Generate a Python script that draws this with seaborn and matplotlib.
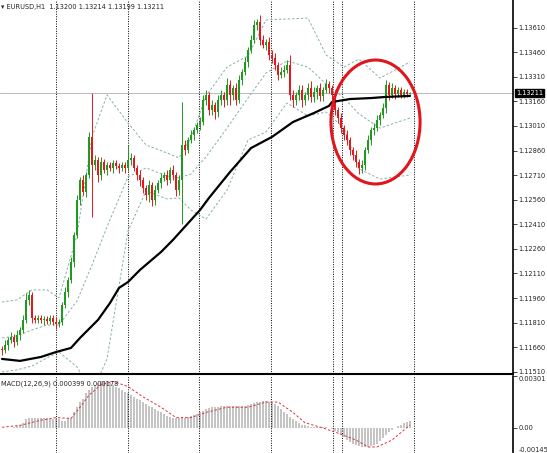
import numpy as np
import seaborn as sns
import matplotlib.pyplot as plt
import matplotlib.transforms as mtransforms
from matplotlib.patches import Ellipse

# EURUSD H1 closes, oldest bar first
closes = [
    1.11644, 1.11674, 1.11705, 1.11723, 1.11692, 1.11735, 1.11766, 1.11827, 1.11949, 1.11979,
    1.11839, 1.11827, 1.11839, 1.11827, 1.11833, 1.11821, 1.11839, 1.11814, 1.11802, 1.11814,
    1.11918, 1.11997, 1.12071, 1.12181, 1.12345, 1.12559, 1.12681, 1.12607, 1.12711, 1.12943,
    1.12772, 1.12803, 1.12711, 1.12790, 1.12741, 1.12772, 1.12754, 1.12784, 1.12766, 1.12754,
    1.12772, 1.12754, 1.12803, 1.12815, 1.12754, 1.12711, 1.12681, 1.12632, 1.12589, 1.12650,
    1.12559, 1.12620, 1.12662, 1.12693, 1.12711, 1.12681, 1.12741, 1.12711, 1.12620, 1.12681,
    1.12894, 1.12863, 1.12924, 1.12955, 1.12985, 1.13016, 1.13034, 1.13168, 1.13199, 1.13107,
    1.13138, 1.13095, 1.13168, 1.13199, 1.13168, 1.13260, 1.13199, 1.13241, 1.13168, 1.13290,
    1.13339, 1.13400, 1.13473, 1.13534, 1.13626, 1.13644, 1.13534, 1.13504, 1.13522, 1.13443,
    1.13424, 1.13382, 1.13321, 1.13339, 1.13351, 1.13382, 1.13199, 1.13168, 1.13199, 1.13229,
    1.13168, 1.13199, 1.13241, 1.13186, 1.13217, 1.13241, 1.13193, 1.13229, 1.13266, 1.13241,
    1.13199, 1.13107, 1.13058, 1.12997, 1.12955, 1.12924, 1.12863, 1.12833, 1.12790, 1.12754,
    1.12772, 1.12863, 1.12924, 1.12985, 1.12997, 1.13046, 1.13077, 1.13119, 1.13260, 1.13199,
    1.13241, 1.13205, 1.13229, 1.13199, 1.13217, 1.13205, 1.13211,
]
first_open = 1.11650

# wick length above / below each candle body, in pips
wick_up = [
    2, 3, 2, 3, 2, 3, 2, 3, 4, 3,
    2, 2, 2, 2, 2, 2, 2, 2, 3, 2,
    2, 3, 2, 3, 2, 3, 2, 3, 2, 3,
    27, 3, 2, 3, 2, 2, 2, 2, 2, 2,
    2, 2, 9, 3, 2, 2, 3, 2, 2, 3,
    2, 3, 2, 3, 2, 3, 2, 3, 2, 3,
    26, 3, 2, 3, 2, 2, 3, 3, 3, 2,
    3, 2, 3, 3, 2, 4, 3, 2, 3, 3,
    2, 3, 2, 3, 3, 2, 4, 3, 2, 3,
    3, 3, 2, 3, 3, 3, 6, 3, 2, 3,
    3, 2, 3, 4, 3, 2, 3, 2, 3, 2,
    2, 3, 2, 3, 2, 3, 2, 2, 3, 2,
    3, 2, 3, 2, 3, 3, 2, 3, 3, 2,
    3, 2, 2, 2, 2, 2, 0.3,
]
wick_dn = [
    3, 2, 3, 2, 3, 2, 3, 2, 2, 3,
    3, 2, 2, 2, 3, 2, 2, 2, 3, 2,
    2, 2, 3, 2, 3, 2, 3, 2, 3, 2,
    32, 3, 4, 3, 2, 3, 2, 3, 2, 3,
    2, 3, 2, 3, 2, 3, 4, 3, 3, 4,
    4, 3, 2, 3, 2, 3, 2, 3, 4, 3,
    27, 3, 2, 2, 3, 2, 3, 2, 3, 3,
    3, 4, 3, 3, 4, 3, 6, 3, 3, 2,
    3, 2, 3, 2, 2, 3, 3, 2, 3, 3,
    3, 3, 3, 2, 3, 2, 3, 4, 3, 3,
    4, 3, 3, 3, 3, 4, 3, 3, 2, 3,
    3, 3, 3, 3, 3, 3, 3, 3, 3, 4,
    3, 3, 2, 3, 3, 2, 3, 2, 3, 3,
    2, 3, 2, 2, 2, 2, 0.1,
]

# long moving average (black line), sampled along the curve
ma_bar = [0, 6, 13, 18, 23, 26, 32, 36, 39, 42, 46, 53, 57, 66, 69, 76, 83, 90, 97, 104, 109, 110, 116, 123, 128, 136]
ma_val = [1.11589, 1.11577, 1.11601, 1.11631, 1.11656, 1.11717, 1.11827, 1.11930, 1.12022, 1.12058,
          1.12132, 1.12241, 1.12315, 1.12497, 1.12571, 1.12729, 1.12875, 1.12943, 1.13034, 1.13089,
          1.13132, 1.13156, 1.13174, 1.13180, 1.13187, 1.13193]

# bollinger bands (dashed), sampled
bb_bar = [0, 5, 10, 15, 19, 25, 30, 35, 42, 48, 55, 59, 63, 68, 75, 82, 88, 95, 102, 108, 114, 119, 126, 136]
bb_upper = [1.11936, 1.11949, 1.12010, 1.12010, 1.11961, 1.12345, 1.12943, 1.13199, 1.13028, 1.12894,
            1.12845, 1.12815, 1.12937, 1.13193, 1.13369, 1.13437, 1.13656, 1.13662, 1.13668, 1.13443,
            1.13369, 1.13418, 1.13302, 1.13400]
bb_mid = [1.11717, 1.11729, 1.11766, 1.11796, 1.11796, 1.11943, 1.12162, 1.12394, 1.12699, 1.12754,
          1.12705, 1.12693, 1.12717, 1.12821, 1.12997, 1.13180, 1.13333, 1.13406, 1.13369, 1.13266,
          1.13180, 1.13083, 1.12997, 1.13058]
bb_lower = [1.11510, 1.11522, 1.11546, 1.11595, 1.11631, 1.11540, 1.11382, 1.11589, 1.12369, 1.12613,
            1.12565, 1.12571, 1.12497, 1.12442, 1.12619, 1.12924, 1.12973, 1.13150, 1.13071, 1.13095,
            1.12997, 1.12748, 1.12686, 1.12711]

# MACD(12,26,9) main histogram, in pips (x 1e-4)
macd_main_pips = [
    0.1, 0.1, 0.2, 0.2, 0.3, 1, 2, 3, 5, 6,
    6, 6, 6, 6, 6, 6, 5, 5, 5, 5,
    4, 4, 5, 6, 9, 12, 15, 17, 20, 22,
    24, 25, 26, 27, 27, 27, 26, 25, 24, 23,
    22, 21, 20, 19, 18, 17, 16, 15, 14, 13,
    12, 11, 10, 9, 8, 7, 6.5, 6, 6, 5.5,
    6, 6, 6.5, 7, 7.5, 8, 9, 10, 11, 11.5,
    12, 12, 12, 12.5, 12.5, 12.5, 12.5, 12.5, 12.5, 12.5,
    13, 13, 13.5, 14, 14.5, 15, 15, 15.5, 15.5, 15,
    15, 14, 12.5, 11, 9.5, 8, 6.5, 5, 4, 3,
    2, 1.5, 1, 0.8, 0.6, 0.5, 0.4, 0.3, 0.3, 0.2,
    -0.5, -1.5, -2.5, -4, -5.5, -7, -8, -9, -10, -10.5,
    -11, -11, -11, -10.5, -10, -9, -7.5, -6, -4, -2.5,
    -1, 0, 1, 2, 3, 3.5, 3.99,
]
# signal line (red dashed), sampled
sig_bar = [0, 6, 13, 18, 23, 26, 29, 33, 37, 42, 47, 53, 58, 63, 68, 75, 82, 88, 92, 97, 101, 107, 112, 118, 122, 125, 130, 136]
sig_pips = [0.4, 1.5, 4.5, 6, 5.5, 12, 19, 25, 27, 24, 18, 12, 6, 6, 9, 12, 12, 15, 15, 9, 3, 0, -3, -7, -11, -11, -7, 1.78]

price_ticks = [1.11510, 1.11660, 1.11810, 1.11960, 1.12110, 1.12260, 1.12410, 1.12560,
               1.12710, 1.12860, 1.13010, 1.13160, 1.13310, 1.13460, 1.13610]
macd_ticks = [0.00301, 0.0, -0.00145]
macd_tick_labels = ['0.00301', '0.00', '-0.00145']
day_breaks = [18, 42, 65.7, 89.7, 110.3, 113.3, 137.3]
last_price = 1.13211

GREEN = '#1e9a1e'
RED = '#e8161b'
FS = 4.8

sns.set_style('white')
plt.rcParams['font.family'] = ['DejaVu Sans']

fig = plt.figure(figsize=(5.47, 4.53), dpi=100)
ax = fig.add_axes([0, 1 - 374 / 453, 513 / 547, 374 / 453])
ax2 = fig.add_axes([0, 0, 513 / 547, 77 / 453])

xs = np.arange(len(closes))
c = np.array(closes)
o = np.concatenate([[first_open], c[:-1]])
hi = np.maximum(o, c) + np.array(wick_up) * 1e-4
lo = np.minimum(o, c) - np.array(wick_dn) * 1e-4
col = np.where(c >= o, GREEN, RED)

# candles
ax.vlines(xs, lo, hi, colors=col, linewidth=0.7, zorder=3)
body = np.maximum(np.abs(c - o), 0.00003)
ax.bar(xs, body, bottom=np.minimum(o, c), width=0.75, color=col, linewidth=0, zorder=4)

# indicators
for band in (bb_upper, bb_mid, bb_lower):
    sns.lineplot(x=bb_bar, y=band, ax=ax, color='#84b3a4', linewidth=0.7,
                 linestyle=(0, (2.5, 2)), sort=False, estimator=None, zorder=2)
sns.lineplot(x=ma_bar, y=ma_val, ax=ax, color='black', linewidth=1.6,
             sort=False, estimator=None, zorder=5)

ax.axhline(last_price, color='#bdbdbd', linewidth=0.8, zorder=1)
ax.add_patch(Ellipse((124.5, 1.13034), width=29.7, height=0.00756, fill=False,
                     edgecolor='#e0161c', linewidth=2.2, zorder=6))

# MACD panel
ax2.bar(xs, np.array(macd_main_pips) * 1e-4, width=0.4, color='#c4c4c4', linewidth=0)
sns.lineplot(x=sig_bar, y=np.array(sig_pips) * 1e-4, ax=ax2, color='#e0303a', linewidth=0.7,
             linestyle=(0, (2.5, 2)), sort=False, estimator=None)

for a in (ax, ax2):
    for x in day_breaks:
        a.axvline(x, color='black', linewidth=0.7, linestyle=(0, (1, 1.5)), zorder=1)
    a.set_xlim(-0.667, 170.33)
    a.set_xticks([])
    a.set_xlabel('')
    a.set_ylabel('')
    a.yaxis.tick_right()
    a.tick_params(axis='y', direction='out', length=3, width=0.6, labelsize=FS, pad=1, right=True)
    a.spines['left'].set_visible(False)
    a.spines['top'].set_visible(False)
    a.spines['right'].set_color('black')
    a.spines['right'].set_linewidth(1.2)

ax.set_ylim(1.11497, 1.13778)
ax.set_yticks(price_ticks)
ax.set_yticklabels([f'{v:.5f}' for v in price_ticks])
ax.spines['bottom'].set_color('black')
ax.spines['bottom'].set_linewidth(1.5)

ax2.set_ylim(-0.00145, 0.00301)
ax2.set_yticks(macd_ticks)
ax2.set_yticklabels(macd_tick_labels)
labs = ax2.get_yticklabels()
labs[0].set_va('top')
labs[2].set_va('bottom')
ax2.spines['bottom'].set_visible(False)

# current price tag
trans = mtransforms.blended_transform_factory(ax.transAxes, ax.transData)
ax.text(1.006, last_price, f'{last_price:.5f}', transform=trans, color='white', fontsize=FS,
        va='center', ha='left', bbox=dict(boxstyle='square,pad=0.2', fc='black', ec='black'), zorder=10)

fig.text(1 / 547, 1 - 7 / 453, '\u25be EURUSD,H1  1.13200 1.13214 1.13199 1.13211', fontsize=FS, va='center')
fig.text(1 / 547, 1 - 384 / 453, 'MACD(12,26,9) 0.000399 0.000178', fontsize=FS, va='center')

fig.savefig('out.png', dpi=100, facecolor='white')
